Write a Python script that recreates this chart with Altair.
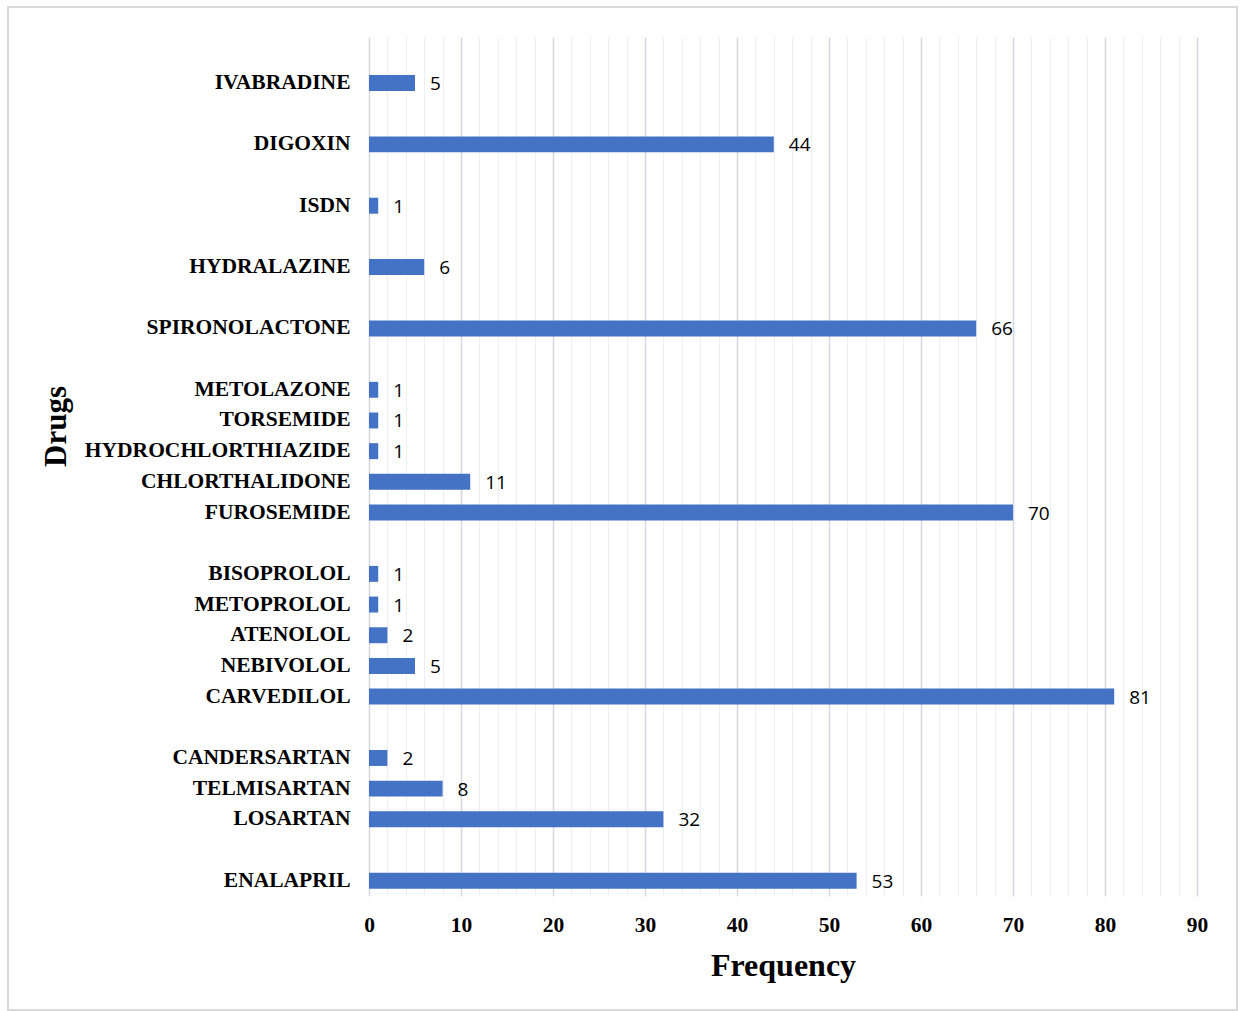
import altair as alt
import pandas as pd

# Row order top to bottom; names starting with "_" are empty spacer rows
rows = ["_b0", "IVABRADINE", "_b1", "DIGOXIN", "_b2", "ISDN", "_b3", "HYDRALAZINE",
        "_b4", "SPIRONOLACTONE", "_b5", "METOLAZONE", "TORSEMIDE", "HYDROCHLORTHIAZIDE",
        "CHLORTHALIDONE", "FUROSEMIDE", "_b6", "BISOPROLOL", "METOPROLOL", "ATENOLOL",
        "NEBIVOLOL", "CARVEDILOL", "_b7", "CANDERSARTAN", "TELMISARTAN", "LOSARTAN",
        "_b8", "ENALAPRIL"]
drugs = ["IVABRADINE", "DIGOXIN", "ISDN", "HYDRALAZINE", "SPIRONOLACTONE",
         "METOLAZONE", "TORSEMIDE", "HYDROCHLORTHIAZIDE", "CHLORTHALIDONE", "FUROSEMIDE",
         "BISOPROLOL", "METOPROLOL", "ATENOLOL", "NEBIVOLOL", "CARVEDILOL",
         "CANDERSARTAN", "TELMISARTAN", "LOSARTAN", "ENALAPRIL"]
freq = [5, 44, 1, 6, 66, 1, 1, 1, 11, 70, 1, 1, 2, 5, 81, 2, 8, 32, 53]
x_ticks = list(range(0, 92, 2))

df = pd.DataFrame({"Drug": drugs, "Frequency": freq})

W, H = 828, 859

y_enc = alt.Y("Drug:N", sort=rows,
              scale=alt.Scale(domain=rows, paddingInner=0.48, paddingOuter=0.24),
              axis=alt.Axis(title="Drugs", labelExpr="indexof(datum.label, '_') == 0 ? '' : datum.label",
                            labelFont="Liberation Serif", labelFontWeight="bold", labelFontSize=21.5,
                            labelColor="black", labelPadding=19, labelLimit=400, labelOverlap=False,
                            ticks=False, domain=False,
                            titleFont="Liberation Serif", titleFontWeight="bold", titleFontSize=31,
                            titleColor="black", titleAngle=270, titleX=-313, titleY=389,
                            titleAlign="center", titleBaseline="middle", grid=False))
x_enc = alt.X("Frequency:Q",
              scale=alt.Scale(domain=[0, 90], nice=False),
              axis=alt.Axis(title="Frequency", values=x_ticks, tickCount=100,
                            labelOverlap=False, labelFlush=False,
                            labelExpr="datum.value % 10 === 0 ? datum.label : ''",
                            labelFont="Liberation Serif", labelFontWeight="bold", labelFontSize=21.5,
                            labelColor="black", labelPadding=18, ticks=False, domain=False,
                            grid=True,
                            gridColor={"condition": {"test": "datum.value % 10 === 0", "value": "#d5dae2"},
                                       "value": "#eceff3"},
                            gridWidth={"condition": {"test": "datum.value % 10 === 0", "value": 1.6},
                                       "value": 1},
                            titleFont="Liberation Serif", titleFontWeight="bold", titleFontSize=32,
                            titleColor="black", titleX=414, titleY=69, titleBaseline="middle",
                            titleAlign="center"))

base = alt.Chart(df)
bars = base.mark_bar(color="#4472C4").encode(x=x_enc, y=y_enc)
labels = base.mark_text(align="left", baseline="middle", dx=15, dy=1, font="Open Sans",
                        fontSize=19, color="black").encode(
    x="Frequency:Q", y=alt.Y("Drug:N", sort=rows), text="Frequency:Q")

border = alt.Chart(pd.DataFrame({"a": [0]})).mark_rect(
    fillOpacity=0, stroke="#d9d9d9", strokeWidth=2).encode(
    x=alt.value(-361), x2=alt.value(868), y=alt.value(-30), y2=alt.value(973))

chart = alt.layer(bars, labels, border).properties(
    width=W, height=H,
    autosize=alt.AutoSizeParams(type="none"),
    padding={"left": 369, "top": 37, "right": 46, "bottom": 115},
    background="white",
).configure_view(strokeWidth=0)

chart.save("out.html", embed_options={"renderer": "svg", "actions": False})
